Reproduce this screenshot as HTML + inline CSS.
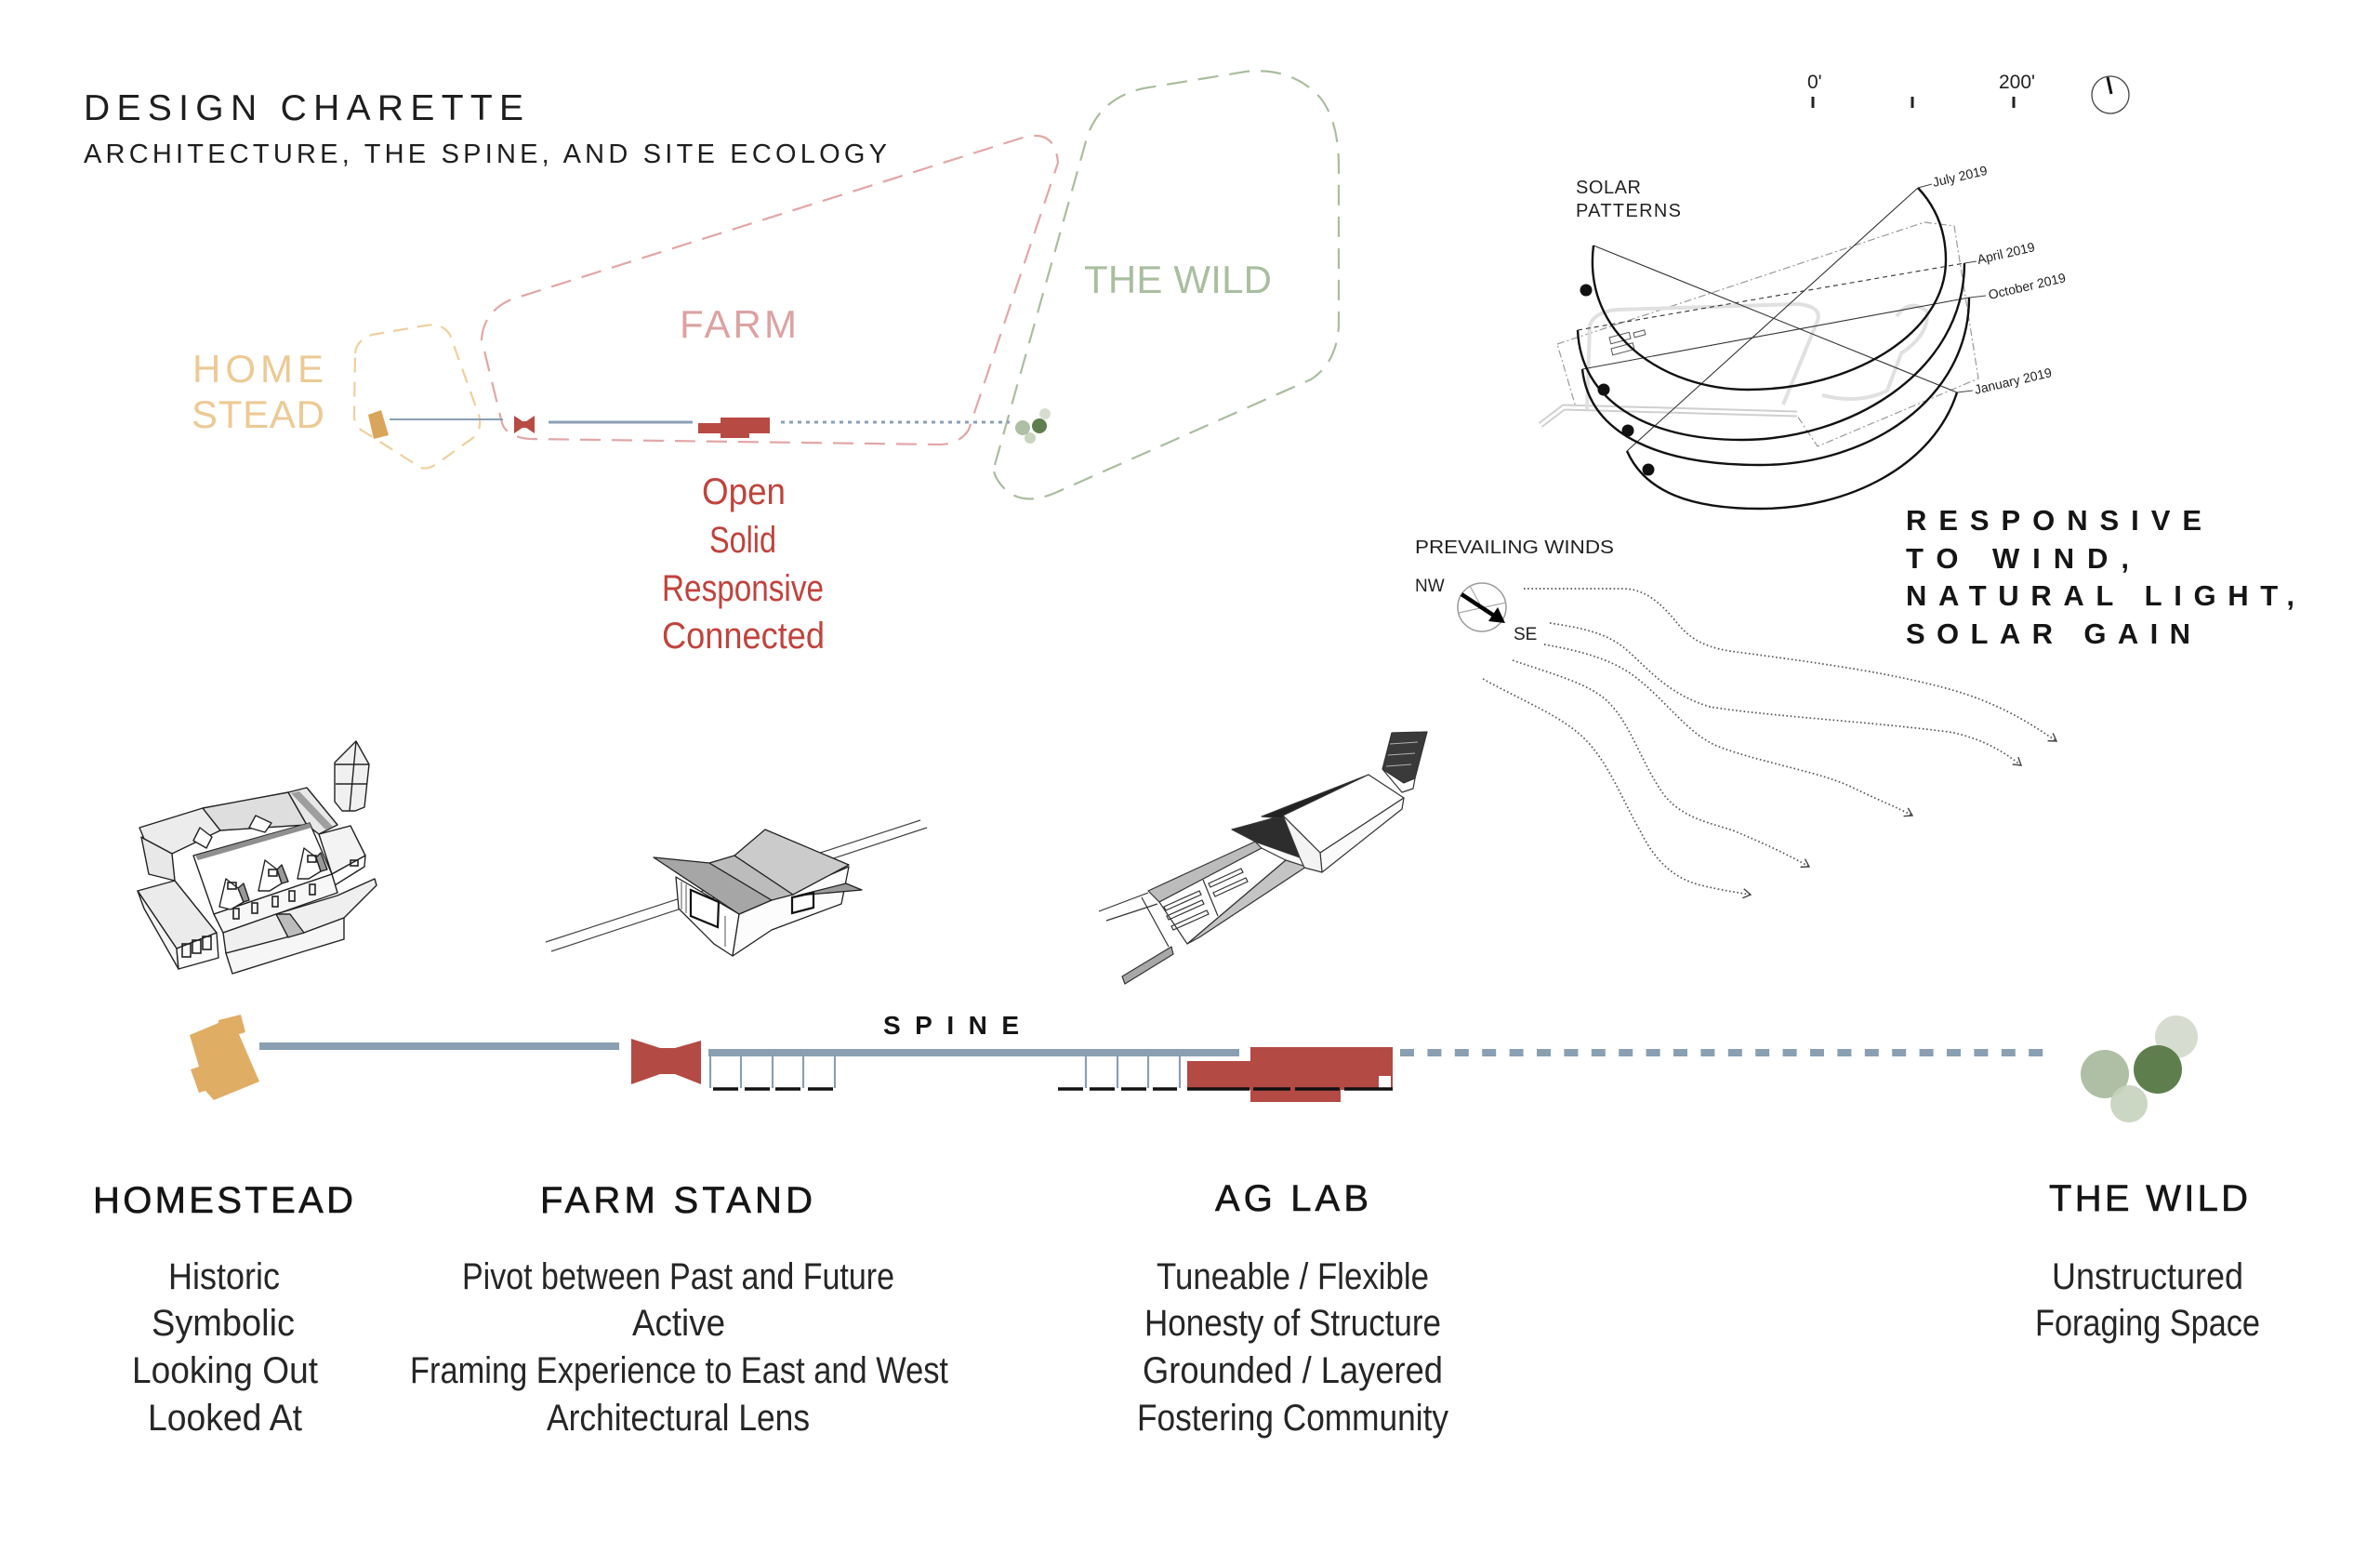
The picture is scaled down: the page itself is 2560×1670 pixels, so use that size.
<!DOCTYPE html>
<html><head><meta charset="utf-8"><style>
html,body{margin:0;padding:0;background:#fff;}
svg{display:block;font-family:"Liberation Sans",sans-serif;}
</style></head><body>
<svg width="2560" height="1670" viewBox="0 0 2560 1670" xmlns="http://www.w3.org/2000/svg">
<defs>
<marker id="ah" markerWidth="14" markerHeight="14" refX="10" refY="6" orient="auto" markerUnits="userSpaceOnUse"><path d="M2,1 L10,6 L2,11" fill="none" stroke="#444" stroke-width="1.4"/></marker>
</defs>
<rect width="2560" height="1670" fill="#fff"/>

<!-- Title -->
<text x="90" y="129" font-size="39" fill="#1e1e1e" textLength="473">DESIGN CHARETTE</text>
<text x="90" y="175" font-size="29" fill="#1e1e1e" textLength="864">ARCHITECTURE, THE SPINE, AND SITE ECOLOGY</text>

<!-- Top zone diagram -->
<path d="M1070,500 L1170,145 Q1185,105 1230,95 L1340,77 Q1390,72 1420,105 Q1440,130 1440,180 L1440,350 Q1438,390 1410,408 L1135,530 Q1100,545 1080,525 Q1066,510 1070,500 Z" fill="none" stroke="#aabd9f" stroke-width="2.2" stroke-dasharray="22 12"/>
<path d="M518,365 Q520,335 550,322 L1100,148 Q1135,138 1138,175 L1042,462 Q1032,478 1010,478 L570,472 Q545,470 540,455 Z" fill="none" stroke="#e2a6a6" stroke-width="2.2" stroke-dasharray="22 12"/>
<path d="M382,380 Q383,366 400,360 L458,350 Q476,347 484,360 L515,446 Q519,460 510,470 L468,500 Q455,508 445,498 L388,462 Q380,455 381,445 Z" fill="none" stroke="#edd09f" stroke-width="2.2" stroke-dasharray="16 10"/>

<text x="207" y="411" font-size="42" fill="#ecca95" textLength="141">HOME</text>
<text x="206" y="460" font-size="42" fill="#ecca95" textLength="143">STEAD</text>
<text x="731" y="363" font-size="42" fill="#dca2a2" textLength="126">FARM</text>
<text x="1166" y="315" font-size="42" fill="#a9bea0" textLength="202">THE WILD</text>

<!-- small spine -->
<polygon points="396,446 410,441 418,468 402,472" fill="#d9a55a"/>
<line x1="419" y1="451" x2="541" y2="451" stroke="#8aa0b5" stroke-width="2"/>
<polygon points="553,447 562,453 566,453 575,447 575,466 566,460 562,460 553,466" fill="#b84a44"/>
<line x1="590" y1="454" x2="745" y2="454" stroke="#8aa0b5" stroke-width="3"/>
<polygon points="775,449 828,449 828,466 806,466 806,471 775,471 775,466 751,466 751,455 775,455" fill="#b84a44"/>
<line x1="840" y1="454" x2="1086" y2="454" stroke="#8aa0b5" stroke-width="3" stroke-dasharray="4 5"/>
<circle cx="1124" cy="445" r="6" fill="#d6ddd0"/>
<circle cx="1108" cy="471" r="6" fill="#c8d5c0"/>
<circle cx="1100" cy="460" r="8" fill="#aebfa5"/>
<circle cx="1118" cy="458" r="8" fill="#5f7e4d"/>

<g font-size="40" fill="#c0433d">
<text x="755" y="542" textLength="90" lengthAdjust="spacingAndGlyphs">Open</text>
<text x="763" y="594" textLength="72" lengthAdjust="spacingAndGlyphs">Solid</text>
<text x="712" y="646" textLength="174" lengthAdjust="spacingAndGlyphs">Responsive</text>
<text x="712" y="697" textLength="175" lengthAdjust="spacingAndGlyphs">Connected</text>
</g>

<!-- scale bar & north -->
<g fill="#222" font-size="21">
<text x="1944" y="95">0'</text>
<text x="2150" y="95">200'</text>
</g>
<g stroke="#222" stroke-width="3">
<line x1="1950" y1="104" x2="1950" y2="116"/>
<line x1="2057" y1="104" x2="2057" y2="116"/>
<line x1="2166" y1="104" x2="2166" y2="116"/>
</g>
<circle cx="2270" cy="102" r="20" fill="none" stroke="#444" stroke-width="1.3"/>
<line x1="2267" y1="83" x2="2271" y2="101" stroke="#111" stroke-width="3"/>

<!-- solar -->
<text x="1695" y="208" font-size="20" fill="#222" textLength="70">SOLAR</text>
<text x="1695" y="233" font-size="20" fill="#222" textLength="113">PATTERNS</text>
<polygon points="1675,370 2070,239 2102,243 2128,407 1955,480 1933,447 1695,438" fill="none" stroke="#9a9a9a" stroke-width="1.2" stroke-dasharray="8 3 2 3"/>
<path d="M1657,457 L1682,438 L1933,445" fill="none" stroke="#cfcfcf" stroke-width="7"/>
<path d="M1657,457 L1682,438 L1933,445" fill="none" stroke="#fff" stroke-width="3"/>
<path d="M1707,440 L1710,350 Q1715,335 1740,333 L1935,327 Q1960,330 1955,345 L1918,435" fill="none" stroke="#e0e0e0" stroke-width="4"/>
<path d="M2040,340 Q2055,320 2073,335 Q2075,360 2045,380 L2030,420 Q2000,435 1960,425" fill="none" stroke="#e0e0e0" stroke-width="4"/>
<g fill="none" stroke="#555" stroke-width="1">
<rect x="1731" y="363" width="22" height="7" transform="rotate(-15 1731 363)"/>
<rect x="1733" y="375" width="24" height="7" transform="rotate(-15 1733 375)"/>
<rect x="1757" y="358" width="12" height="5" transform="rotate(-15 1757 358)"/>
</g>
<g stroke="#333" stroke-width="1.1" fill="none">
<line x1="1714" y1="264" x2="2105" y2="422"/>
<line x1="2063" y1="202" x2="1750" y2="485"/>
<line x1="1702" y1="397" x2="2118" y2="320"/>
<line x1="1697" y1="355" x2="2113" y2="283" stroke-dasharray="5 4"/>
</g>
<g stroke="#111" stroke-width="2.4" fill="none">
<path d="M1714,264 C1702,360 1790,419 1880,419 C1990,419 2093,360 2093,280 C2093,245 2080,220 2063,202"/>
<path d="M1697,355 C1700,430 1770,473 1873,473 C1990,473 2113,400 2113,283"/>
<path d="M1702,397 C1710,470 1790,500 1893,500 C2010,500 2118,430 2118,320"/>
<path d="M1750,485 C1770,530 1820,547 1893,547 C1990,547 2080,500 2105,422"/>
</g>
<g fill="#111">
<circle cx="1706" cy="312" r="6.5"/>
<circle cx="1725" cy="419" r="6.5"/>
<circle cx="1751" cy="463" r="6.5"/>
<circle cx="1773" cy="505" r="6.5"/>
</g>
<g stroke="#444" stroke-width="1">
<line x1="2063" y1="202" x2="2078" y2="198"/>
<line x1="2113" y1="283" x2="2126" y2="281"/>
<line x1="2118" y1="320" x2="2136" y2="318"/>
<line x1="2105" y1="422" x2="2122" y2="420"/>
</g>
<g font-size="14" fill="#222">
<text x="2080" y="201" transform="rotate(-13 2080 201)">July 2019</text>
<text x="2128" y="284" transform="rotate(-13 2128 284)">April 2019</text>
<text x="2140" y="322" transform="rotate(-13 2140 322)">October 2019</text>
<text x="2125" y="424" transform="rotate(-13 2125 424)">January 2019</text>
</g>

<!-- Responsive text -->
<g font-size="31" font-weight="bold" fill="#151515">
<text x="2050" y="570" textLength="318">RESPONSIVE</text>
<text x="2050" y="611" textLength="240">TO WIND,</text>
<text x="2050" y="651" textLength="418">NATURAL LIGHT,</text>
<text x="2050" y="692" textLength="306">SOLAR GAIN</text>
</g>

<!-- winds -->
<text x="1522" y="595" font-size="20" fill="#222" textLength="214" lengthAdjust="spacingAndGlyphs">PREVAILING WINDS</text>
<text x="1522" y="636" font-size="19" fill="#222">NW</text>
<text x="1628" y="688" font-size="19" fill="#222">SE</text>
<circle cx="1594" cy="653" r="26" fill="none" stroke="#9a9a9a" stroke-width="1.5"/>
<line x1="1581" y1="630" x2="1592" y2="650" stroke="#aaa" stroke-width="1.2"/>
<line x1="1569" y1="659" x2="1620" y2="648" stroke="#aaa" stroke-width="1.2"/>
<line x1="1572" y1="639" x2="1607" y2="662" stroke="#000" stroke-width="4.5"/>
<polygon points="1619,670 1601,668 1611,653" fill="#000"/>
<g fill="none" stroke="#555" stroke-width="1.7" stroke-dasharray="1.6 2.6" marker-end="url(#ah)">
<path d="M1639,633 L1747,633 C1770,634 1785,648 1800,665 C1815,685 1830,695 1860,700 C1950,712 2050,725 2116,747 C2160,762 2190,782 2212,797"/>
<path d="M1667,670 C1700,675 1725,680 1745,695 C1770,715 1790,745 1839,760 C1900,770 2000,775 2096,787 C2130,793 2155,808 2174,823"/>
<path d="M1661,693 C1700,700 1730,708 1755,725 C1790,750 1815,790 1849,803 C1900,822 1960,830 1995,848 C2020,860 2040,868 2057,877"/>
<path d="M1627,710 C1670,725 1710,735 1730,755 C1755,780 1765,820 1790,855 C1810,880 1840,885 1864,893 C1900,908 1925,920 1946,932"/>
<path d="M1595,730 C1640,755 1680,770 1705,795 C1730,820 1745,860 1765,895 C1780,925 1800,945 1830,952 C1850,957 1870,960 1883,962"/>
</g>

<!-- Homestead building -->
<g stroke="#222" stroke-width="1.4" stroke-linejoin="round">
<polygon points="150,890 218,869 237,893 185,918 155,902" fill="#ececec"/>
<polygon points="218,869 310,852 330,887 237,893" fill="#dedede"/>
<polygon points="310,852 330,847 363,887 343,897 330,887" fill="#e8e8e8"/>
<polygon points="313,853 322,851 358,889 350,892" fill="#9e9e9e" stroke="none"/>
<polygon points="343,897 377,888 393,920 357,940" fill="#f3f3f3"/>
<polygon points="357,940 393,920 392,932 360,952" fill="#fff"/>
<polygon points="155,902 185,918 188,947 160,940 152,900" fill="#e8e8e8"/>
<polygon points="208,920 333,885 357,940 230,983" fill="#fff"/>
<polygon points="210,920 333,885 335,890 213,925" fill="#8f8f8f" stroke="none"/>
<polygon points="230,983 357,940 363,960 240,1003" fill="#f7f7f7"/>
<polygon points="148,958 188,947 233,1003 190,1020" fill="#ebebeb"/>
<polygon points="148,958 190,1020 192,1042 155,977" fill="#f4f4f4"/>
<polygon points="190,1020 233,1003 235,1030 192,1042" fill="#fafafa"/>
<polygon points="240,1003 297,983 363,963 403,945 405,952 370,987 327,1003 270,1020 243,1025" fill="#efefef"/>
<polygon points="243,1025 327,1003 370,987 370,1010 327,1023 250,1047" fill="#f6f6f6"/>
<polygon points="297,983 312,983 327,1003 310,1008" fill="#bcbcbc"/>
<!-- dormers -->
<polygon points="236,975 243,945 256,955 262,970 248,978" fill="#fff"/>
<polygon points="256,955 262,970 268,968 262,950" fill="#999"/>
<polygon points="278,958 285,925 298,935 303,950 290,958" fill="#fff"/>
<polygon points="298,935 303,950 310,948 303,930" fill="#999"/>
<polygon points="320,945 327,912 340,922 345,937 332,945" fill="#fff"/>
<polygon points="340,922 345,937 352,935 345,917" fill="#999"/>
<polygon points="208,904 215,890 228,900 222,912" fill="#fff"/>
<polygon points="268,890 275,877 292,885 285,895" fill="#fff"/>
<!-- silo -->
<polygon points="360,820 383,797 397,822 392,868 382,872 368,872 360,862" fill="#f0f0f0"/>
<line x1="360" y1="822" x2="397" y2="822"/>
<line x1="361" y1="843" x2="394" y2="843"/>
<line x1="383" y1="797" x2="376" y2="872"/>
</g>
<g fill="none" stroke="#222" stroke-width="1.6">
<rect x="251" y="977" width="6" height="11"/>
<rect x="271" y="971" width="6" height="11"/>
<rect x="293" y="964" width="6" height="11"/>
<rect x="311" y="958" width="6" height="11"/>
<rect x="333" y="951" width="6" height="11"/>
<rect x="196" y="1015" width="9" height="14"/>
<rect x="207" y="1011" width="9" height="14"/>
<rect x="218" y="1007" width="9" height="14"/>
<rect x="245" y="949" width="9" height="7"/>
<rect x="289" y="935" width="9" height="7"/>
<rect x="331" y="920" width="9" height="7"/>
<rect x="377" y="925" width="8" height="6"/>
</g>

<!-- Farm stand building -->
<g stroke="#444" stroke-width="1.2">
<line x1="587" y1="1013" x2="990" y2="882"/>
<line x1="593" y1="1023" x2="997" y2="890"/>
</g>
<g stroke="#222" stroke-width="1.3" stroke-linejoin="round">
<polygon points="727,943 795,983 788,1028 768,1015 730,977" fill="#fff"/>
<polygon points="795,983 913,932 905,972 830,1000 788,1028" fill="#fcfcfc"/>
<polygon points="703,922 763,928 830,968 795,983" fill="#a6a6a6"/>
<polygon points="763,928 790,920 853,962 830,968" fill="#bcbcbc"/>
<polygon points="790,920 823,892 913,930 853,962" fill="#cbcbcb"/>
<polygon points="858,963 910,950 927,957" fill="#9a9a9a"/>
</g>
<g fill="none" stroke="#111" stroke-width="2.2">
<polygon points="743,957 773,970 772,997 743,985"/>
<polygon points="852,965 875,960 875,976 852,982"/>
</g>
<g stroke="#555" stroke-width="1">
<line x1="733" y1="948" x2="733" y2="978"/>
<line x1="738" y1="951" x2="738" y2="982"/>
<line x1="780" y1="985" x2="780" y2="1018"/>
</g>

<!-- Ag lab -->
<g stroke="#333" stroke-width="1.2" stroke-linejoin="round">
<line x1="1182" y1="980" x2="1235" y2="960"/>
<line x1="1190" y1="990" x2="1245" y2="972"/>
<line x1="1228" y1="965" x2="1257" y2="1018"/>
<polygon points="1207,1050 1260,1018 1262,1026 1210,1058" fill="#a8a8a8"/>
<polygon points="1235,958 1350,905 1357,912 1247,970" fill="#bcbcbc"/>
<polygon points="1247,970 1357,912 1383,925 1277,1015" fill="#fff"/>
<polygon points="1277,1015 1383,925 1405,932 1290,1008" fill="#c4c4c4"/>
<polygon points="1487,827 1497,788 1535,787 1522,837 1510,842" fill="#3a3a3a"/>
<polygon points="1487,827 1510,842 1522,837 1520,848 1508,852" fill="#fff"/>
<polygon points="1325,892 1380,877 1410,913 1398,922 1350,905" fill="#2d2d2d"/>
<polygon points="1357,878 1472,833 1473,836 1380,880" fill="#222"/>
<polygon points="1380,877 1472,833 1510,858 1420,917" fill="#fff"/>
<polygon points="1420,917 1510,858 1508,870 1422,938" fill="#fafafa"/>
<polygon points="1380,877 1420,917 1422,938 1403,933 1398,922" fill="#f3f3f3"/>
</g>
<g fill="none" stroke="#333" stroke-width="1.2">
<polygon points="1252,975 1290,958 1292,962 1254,979"/>
<polygon points="1255,985 1293,968 1295,972 1257,989"/>
<polygon points="1260,996 1298,979 1300,983 1262,1000"/>
<polygon points="1300,950 1335,934 1337,938 1302,954"/>
<polygon points="1305,960 1340,944 1342,948 1307,964"/>
<line x1="1294" y1="946" x2="1310" y2="985"/>
</g>
<g stroke="#fff" stroke-width="1" opacity="0.6">
<line x1="1495" y1="800" x2="1525" y2="798"/>
<line x1="1493" y1="812" x2="1522" y2="810"/>
<line x1="1491" y1="824" x2="1518" y2="822"/>
</g>

<!-- Spine -->
<text x="950" y="1112" font-size="28" font-weight="bold" fill="#151515" textLength="146">SPINE</text>
<polygon points="204,1113 235,1100 235,1097 259,1091 264,1110 257,1112 279,1163 230,1183 221,1173 214,1175 205,1150 214,1147" fill="#e0ad64"/>
<rect x="279" y="1121" width="387" height="8" fill="#8a9fb1"/>
<polygon points="679,1117 710,1127 726,1127 754,1119 754,1166 726,1155 710,1155 679,1166" fill="#b34a44"/>
<rect x="762" y="1128" width="571" height="8" fill="#8a9fb1"/>
<g stroke="#8a9fb1" stroke-width="2.2">
<line x1="764" y1="1136" x2="764" y2="1170"/>
<line x1="797" y1="1136" x2="797" y2="1170"/>
<line x1="831" y1="1136" x2="831" y2="1170"/>
<line x1="864" y1="1136" x2="864" y2="1170"/>
<line x1="898" y1="1136" x2="898" y2="1170"/>
<line x1="1168" y1="1136" x2="1168" y2="1170"/>
<line x1="1202" y1="1136" x2="1202" y2="1170"/>
<line x1="1235" y1="1136" x2="1235" y2="1170"/>
<line x1="1269" y1="1136" x2="1269" y2="1170"/>
</g>
<polygon points="1345,1126 1498,1126 1498,1172 1442,1172 1442,1185 1345,1185 1345,1172 1277,1172 1277,1141 1345,1141" fill="#b34a44"/>
<rect x="1483" y="1157" width="13" height="13" fill="#fff"/>
<g stroke="#111" stroke-width="3.5">
<line x1="767" y1="1171" x2="794" y2="1171"/>
<line x1="801" y1="1171" x2="828" y2="1171"/>
<line x1="834" y1="1171" x2="861" y2="1171"/>
<line x1="869" y1="1171" x2="896" y2="1171"/>
<line x1="1138" y1="1171" x2="1165" y2="1171"/>
<line x1="1172" y1="1171" x2="1199" y2="1171"/>
<line x1="1206" y1="1171" x2="1233" y2="1171"/>
<line x1="1240" y1="1171" x2="1266" y2="1171"/>
<line x1="1277" y1="1171" x2="1344" y2="1171"/>
<line x1="1348" y1="1171" x2="1388" y2="1171"/>
<line x1="1393" y1="1171" x2="1441" y2="1171"/>
<line x1="1446" y1="1171" x2="1498" y2="1171"/>
</g>
<line x1="1506" y1="1132" x2="2200" y2="1132" stroke="#8a9fb1" stroke-width="8" stroke-dasharray="15 14.4"/>
<circle cx="2341" cy="1115" r="23" fill="#d6ddd0"/>
<circle cx="2264" cy="1155" r="26" fill="#aebfa5"/>
<circle cx="2290" cy="1187" r="20" fill="#c5d2bd" opacity="0.9"/>
<circle cx="2321" cy="1150" r="26" fill="#5f7e4d"/>

<!-- Bottom headings -->
<g font-size="40" fill="#151515" stroke="#151515" stroke-width="0.6">
<text x="100" y="1304" textLength="280">HOMESTEAD</text>
<text x="581" y="1304" textLength="293">FARM STAND</text>
<text x="1307" y="1302" textLength="165">AG LAB</text>
<text x="2204" y="1302" textLength="214">THE WILD</text>
</g>
<g font-size="40" fill="#262626">
<text x="181" y="1386" textLength="120" lengthAdjust="spacingAndGlyphs">Historic</text>
<text x="163" y="1436" textLength="154" lengthAdjust="spacingAndGlyphs">Symbolic</text>
<text x="142" y="1487" textLength="200" lengthAdjust="spacingAndGlyphs">Looking Out</text>
<text x="159" y="1538" textLength="166" lengthAdjust="spacingAndGlyphs">Looked At</text>

<text x="497" y="1386" textLength="465" lengthAdjust="spacingAndGlyphs">Pivot between Past and Future</text>
<text x="680" y="1436" textLength="100" lengthAdjust="spacingAndGlyphs">Active</text>
<text x="441" y="1487" textLength="579" lengthAdjust="spacingAndGlyphs">Framing Experience to East and West</text>
<text x="588" y="1538" textLength="283" lengthAdjust="spacingAndGlyphs">Architectural Lens</text>

<text x="1244" y="1386" textLength="293" lengthAdjust="spacingAndGlyphs">Tuneable / Flexible</text>
<text x="1231" y="1436" textLength="319" lengthAdjust="spacingAndGlyphs">Honesty of Structure</text>
<text x="1229" y="1487" textLength="323" lengthAdjust="spacingAndGlyphs">Grounded / Layered</text>
<text x="1223" y="1538" textLength="335" lengthAdjust="spacingAndGlyphs">Fostering Community</text>

<text x="2207" y="1386" textLength="206" lengthAdjust="spacingAndGlyphs">Unstructured</text>
<text x="2189" y="1436" textLength="242" lengthAdjust="spacingAndGlyphs">Foraging Space</text>
</g>
</svg>
</body></html>
